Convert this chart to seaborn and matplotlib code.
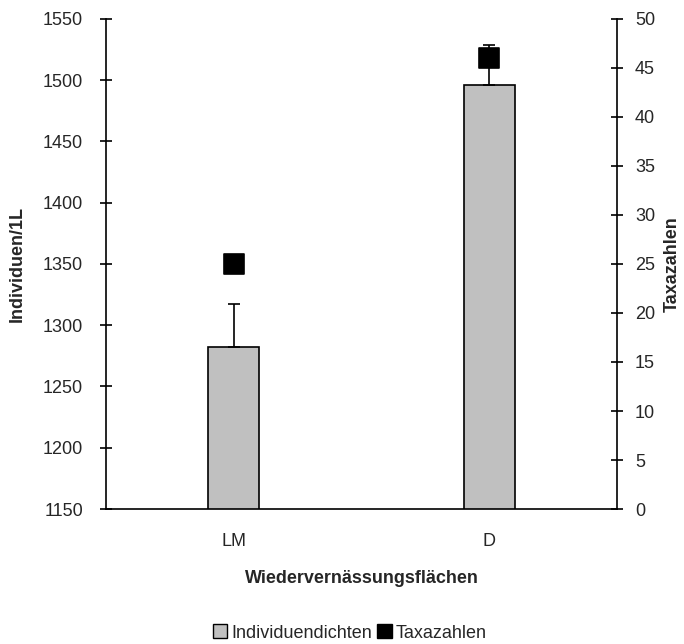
import numpy as np
import pandas as pd
import matplotlib
matplotlib.use("Agg")
import matplotlib.pyplot as plt
from matplotlib.patches import Patch
import seaborn as sns

# Data
categories = ["LM", "D"]
individuendichten = [1282, 1496]
individuen_err = [35, 33]
taxazahlen = [25, 46]

sns.set_theme(style="white")
plt.rcParams["font.family"] = ["Liberation Sans", "DejaVu Sans"]
FS = 13
plt.rcParams["font.size"] = FS

df = pd.DataFrame({"Fläche": categories, "Individuen": individuendichten})

fig = plt.figure(figsize=(6.84, 6.44), dpi=100)
ax = fig.add_axes([0.155, 0.2096, 0.747, 0.761])

sns.barplot(data=df, x="Fläche", y="Individuen", color="#c0c0c0",
            edgecolor="black", linewidth=1.2, width=0.2, ax=ax,
            saturation=1)
pos = np.arange(len(categories))
ax.errorbar(pos, individuendichten,
            yerr=[np.zeros(len(individuen_err)), individuen_err],
            fmt="none", ecolor="black", elinewidth=1.2, capsize=4, capthick=1.2)

ax.set_ylim(1150, 1550)
ax.set_yticks(np.arange(1150, 1551, 50))
ax.set_xlim(-0.5, len(categories) - 0.5)
ax.set_xticks(np.arange(-0.5, len(categories), 1.0))
ax.set_xticklabels([])
ax.set_xticks(pos, minor=True)
ax.set_xticklabels(categories, minor=True)
ax.tick_params(axis="x", which="minor", length=0, pad=17.5, labelsize=FS)
ax.tick_params(axis="x", which="major", direction="inout", length=9, width=1.2, color="black")
ax.tick_params(axis="y", direction="inout", length=9, width=1.2, color="black",
               labelsize=FS, pad=12)
for s in ["top", "right"]:
    ax.spines[s].set_visible(False)
for s in ["left", "bottom"]:
    ax.spines[s].set_color("black")
    ax.spines[s].set_linewidth(1.2)
ax.set_xlabel("Wiedervernässungsflächen", fontweight="bold", fontsize=FS, labelpad=14)
ax.set_ylabel("Individuen/1L", fontweight="bold", fontsize=FS, labelpad=12)

ax2 = ax.twinx()
sns.scatterplot(x=pos, y=taxazahlen, marker="s", s=225, color="black",
                edgecolor="black", ax=ax2, legend=False, zorder=5)
ax2.set_ylim(0, 50)
ax2.set_yticks(np.arange(0, 51, 5))
ax2.tick_params(axis="y", direction="inout", length=9, width=1.2, color="black",
                labelsize=FS, pad=8.5)
for s in ["top", "left", "bottom"]:
    ax2.spines[s].set_visible(False)
ax2.spines["right"].set_color("black")
ax2.spines["right"].set_linewidth(1.2)
ax2.set_ylabel("Taxazahlen", fontweight="bold", fontsize=FS, labelpad=6)
ax2.grid(False)
ax.grid(False)

handles = [
    Patch(facecolor="#c0c0c0", edgecolor="black", linewidth=1.0, label="Individuendichten"),
    Patch(facecolor="black", edgecolor="black", label="Taxazahlen"),
]
fig.legend(handles=handles, loc="center", bbox_to_anchor=(0.511, 0.017),
           ncol=2, frameon=False, fontsize=FS, handlelength=0.8, handleheight=0.8,
           handletextpad=0.2, columnspacing=0.3)

fig.savefig("out.png", dpi=100)
